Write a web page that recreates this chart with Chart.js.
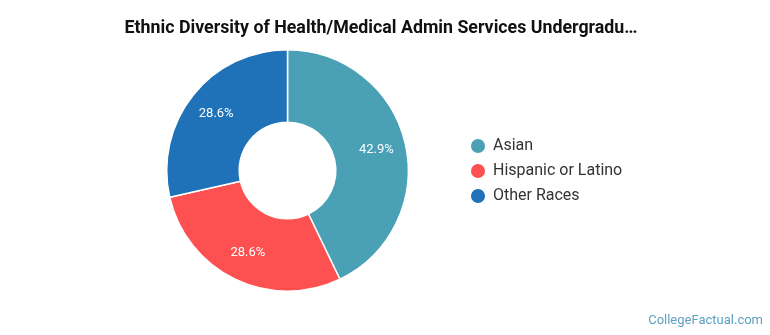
<!DOCTYPE html>
<html>
<head>
<meta charset="utf-8">
<script src="https://cdn.jsdelivr.net/npm/chart.js@4/dist/chart.umd.min.js"></script>
<style>
    html, body { margin: 0; padding: 0; background: #fff; }
    #wrap { width: 770px; height: 335px; position: relative; }
</style>
</head>
<body>
<div id="wrap"><canvas id="raceChart"></canvas></div>
<script>
// --- DATA ---
const categories = ["Asian", "Hispanic or Latino", "Other Races"];
const shares = [42.9, 28.6, 28.6];
const sliceColors = ["#4aa0b4", "#fd5151", "#1f71b8"];
const chartTitle = "Ethnic Diversity of Health/Medical Admin Services Undergradu\u2026";

// white % labels inside each slice
const sliceLabels = {
    id: "sliceLabels",
    afterDatasetsDraw(chart) {
        const ctx = chart.ctx;
        const meta = chart.getDatasetMeta(0);
        ctx.save();
        ctx.fillStyle = "#fff";
        ctx.font = "13px Roboto";
        ctx.textAlign = "center";
        ctx.textBaseline = "middle";
        meta.data.forEach((arc, i) => {
            const p = arc.getProps(["startAngle", "endAngle", "outerRadius", "x", "y"], true);
            const mid = (p.startAngle + p.endAngle) / 2;
            const r = p.outerRadius * 0.755;
            ctx.fillText(shares[i].toFixed(1) + "%", p.x + Math.cos(mid) * r, p.y + Math.sin(mid) * r);
        });
        ctx.restore();
    }
};

// site mark bottom right
const watermark = {
    id: "watermark",
    afterDraw(chart) {
        const ctx = chart.ctx;
        ctx.save();
        ctx.fillStyle = "#5e9fc2";
        ctx.font = "13px Roboto";
        ctx.textAlign = "right";
        ctx.textBaseline = "middle";
        ctx.fillText("CollegeFactual.com", 763, 321);
        ctx.restore();
    }
};

// widen the legend box (title centring) and push the items down to sit beside the ring centre
const legendFit = {
    id: "legendFit",
    beforeInit(chart) {
        const fit = chart.legend.fit;
        chart.legend.fit = function() {
            fit.bind(this)();
            this.width = 187;
        };
    },
    afterLayout(chart) {
        chart.legend.top += 25;
        chart.legend.bottom += 25;
    }
};

new Chart(document.getElementById("raceChart"), {
    type: "doughnut",
    data: {
        labels: categories,
        datasets: [{
            data: shares,
            backgroundColor: sliceColors,
            borderColor: "#fff",
            borderWidth: 1.5
        }]
    },
    options: {
        responsive: true,
        maintainAspectRatio: false,
        animation: false,
        cutout: "40%",
        layout: { padding: { left: 113, right: 121, top: 0, bottom: 43 } },
        plugins: {
            title: {
                display: true,
                text: chartTitle,
                color: "#111",
                font: { family: "Roboto", size: 17.8, weight: "bold" },
                padding: { top: 17.6, bottom: 10 }
            },
            legend: {
                position: "right",
                labels: {
                    usePointStyle: true,
                    pointStyle: "circle",
                    boxWidth: 14,
                    boxHeight: 11,
                    padding: 9,
                    color: "#333",
                    font: { family: "Roboto", size: 16 }
                }
            },
            tooltip: { enabled: false }
        }
    },
    plugins: [legendFit, sliceLabels, watermark]
});
</script>
</body>
</html>
